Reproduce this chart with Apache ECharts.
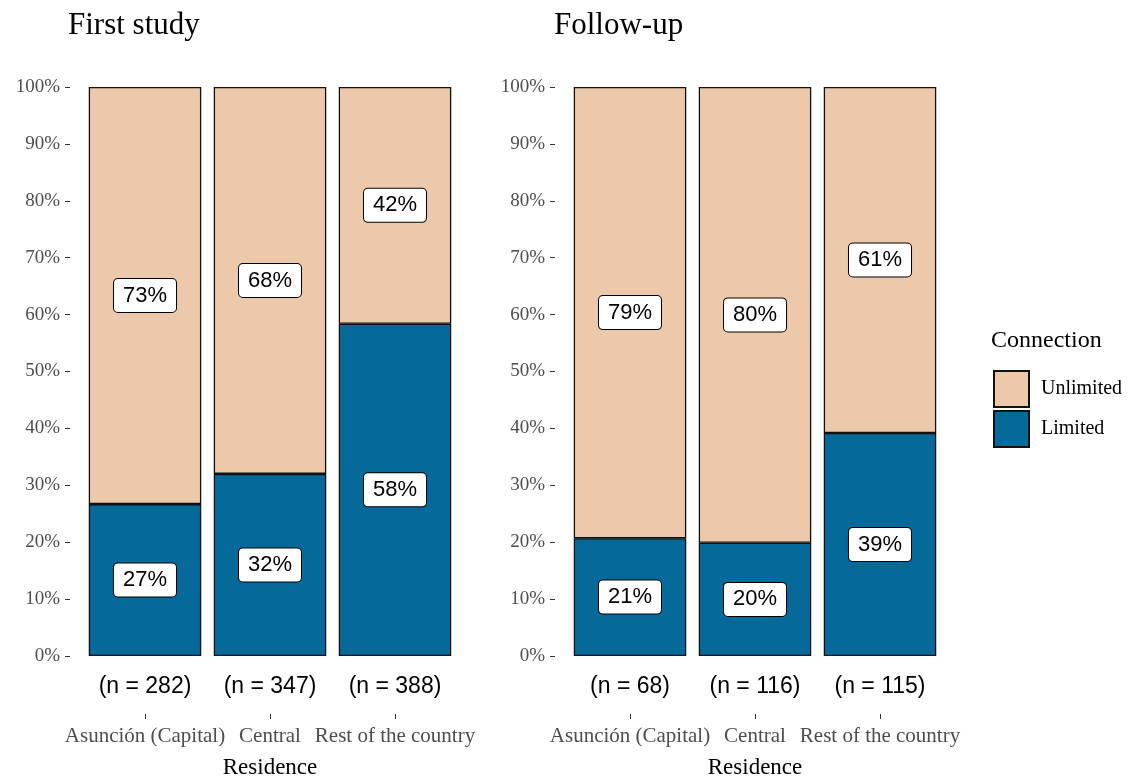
<!DOCTYPE html>
<html>
<head>
<meta charset="utf-8">
<script src="https://cdn.jsdelivr.net/npm/echarts@6/dist/echarts.min.js"></script>
<style>
html,body{margin:0;padding:0;background:#fff;}
#chart{width:1130px;height:784px;}
</style>
</head>
<body>
<div id="chart"></div>
<script>
// ---- data ----
const categories = ['Asunción (Capital)', 'Central', 'Rest of the country'];
const panelTitles = ['First study', 'Follow-up'];
const firstN = [282, 347, 388];
const followN = [68, 116, 115];
const firstLimited = [26.7, 32.0, 58.4];
const firstUnlimited = [73.3, 68.0, 41.6];
const followLimited = [20.7, 19.9, 39.2];
const followUnlimited = [79.3, 80.1, 60.8];
const yTicks = [0, 10, 20, 30, 40, 50, 60, 70, 80, 90, 100];
const seriesNames = ['Unlimited', 'Limited'];
const legendTitle = 'Connection';
const xTitle = 'Residence';

const COL_UNL = '#ECC9AB';
const COL_LIM = '#05699A';
const SERIF = '"Liberation Serif","DejaVu Serif",serif';
const SANS = '"Liberation Sans",Arial,sans-serif';

const chart = echarts.init(document.getElementById('chart'));

const panels = [
  {left: 82.5, n: firstN, lim: firstLimited, unl: firstUnlimited},
  {left: 567.5, n: followN, lim: followLimited, unl: followUnlimited}
];

const grids = [], xAxes = [], yAxes = [], series = [], titles = [];
const labelStyle = {
  show: true,
  position: 'inside',
  formatter: p => Math.round(p.value) + '%',
  color: '#000',
  fontFamily: SANS,
  fontSize: 22,
  backgroundColor: '#fff',
  borderColor: '#000',
  borderWidth: 1,
  borderRadius: 4,
  padding: [6, 9, 5, 9]
};

panels.forEach((pn, i) => {
  grids.push({left: pn.left, width: 375, top: 87, height: 574});
  // n labels axis
  xAxes.push({
    type: 'category', gridIndex: i, data: pn.n.map(v => '(n = ' + v + ')'),
    position: 'bottom', boundaryGap: true,
    axisLine: {show: false}, axisTick: {show: false},
    axisLabel: {color: '#000', fontFamily: SANS, fontSize: 23, margin: 19}
  });
  // category axis with ticks
  xAxes.push({
    type: 'category', gridIndex: i, data: categories,
    position: 'bottom', offset: 58, boundaryGap: true,
    axisLine: {show: false},
    axisTick: {show: true, alignWithLabel: true, length: 5, lineStyle: {color: '#333'}},
    axisLabel: {color: '#4d4d4d', fontFamily: SERIF, fontSize: 21, margin: 12, interval: 0},
    name: xTitle, nameLocation: 'middle', nameGap: 42,
    nameTextStyle: {color: '#000', fontFamily: SERIF, fontSize: 23}
  });
  yAxes.push({
    type: 'value', gridIndex: i, min: 0, max: 100, interval: 10, offset: 12.5,
    axisLine: {show: false},
    axisTick: {show: true, length: 5, lineStyle: {color: '#333'}},
    splitLine: {show: false},
    axisLabel: {color: '#4d4d4d', fontFamily: SERIF, fontSize: 19, margin: 10,
      formatter: v => yTicks.indexOf(v) >= 0 ? v + '%' : ''}
  });
  series.push({
    name: seriesNames[1], type: 'bar', stack: 's' + i,
    xAxisIndex: i * 2, yAxisIndex: i,
    data: pn.lim, barCategoryGap: '10%',
    itemStyle: {color: COL_LIM, borderColor: '#111', borderWidth: 1.3},
    label: labelStyle
  });
  series.push({
    name: seriesNames[0], type: 'bar', stack: 's' + i,
    xAxisIndex: i * 2, yAxisIndex: i,
    data: pn.unl, barCategoryGap: '10%',
    itemStyle: {color: COL_UNL, borderColor: '#111', borderWidth: 1.3},
    label: labelStyle
  });
  titles.push({
    text: panelTitles[i], left: i === 0 ? 68 : 554, top: 10, padding: 0,
    textStyle: {color: '#000', fontFamily: SERIF, fontSize: 31, fontWeight: 'normal'}
  });
});

titles.push({
  text: legendTitle, left: 991, top: 329, padding: 0,
  textStyle: {color: '#000', fontFamily: SERIF, fontSize: 24, fontWeight: 'normal'}
});

chart.setOption({
  animation: false,
  backgroundColor: '#fff',
  title: titles,
  grid: grids,
  xAxis: xAxes,
  yAxis: yAxes,
  legend: {
    data: seriesNames, orient: 'vertical', left: 993, top: 370, padding: 0,
    icon: 'rect', itemWidth: 35, itemHeight: 36, itemGap: 2,
    textStyle: {color: '#000', fontFamily: SERIF, fontSize: 20, padding: [0, 0, 0, 7]},
    selectedMode: false
  },
  series: series
});
</script>
</body>
</html>
